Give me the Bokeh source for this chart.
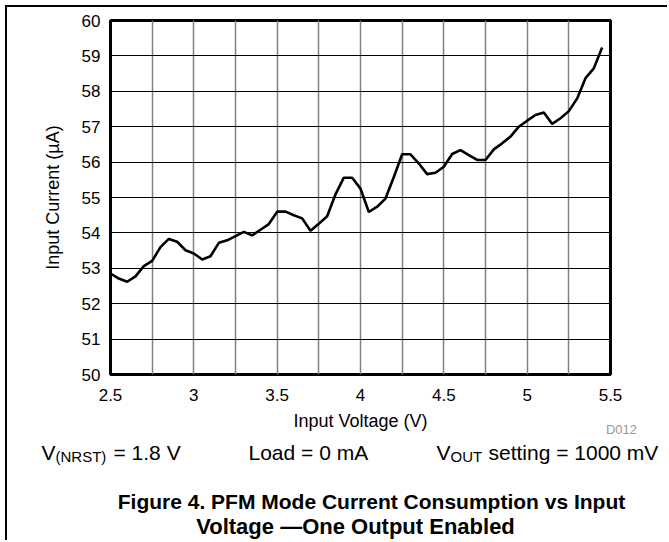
from bokeh.plotting import figure
from bokeh.models import FixedTicker, Label, Range1d
from bokeh.embed import file_html
from bokeh.resources import INLINE

# ---- data ----
voltage = [2.50, 2.55, 2.60, 2.65, 2.70, 2.75, 2.80, 2.85, 2.90, 2.95,
           3.00, 3.05, 3.10, 3.15, 3.20, 3.25, 3.30, 3.35, 3.40, 3.45,
           3.50, 3.55, 3.60, 3.65, 3.70, 3.75, 3.80, 3.85, 3.90, 3.95,
           4.00, 4.05, 4.10, 4.15, 4.20, 4.25, 4.30, 4.35, 4.40, 4.45,
           4.50, 4.55, 4.60, 4.65, 4.70, 4.75, 4.80, 4.85, 4.90, 4.95,
           5.00, 5.05, 5.10, 5.15, 5.20, 5.25, 5.30, 5.35, 5.40, 5.45]
current = [52.85, 52.71, 52.62, 52.77, 53.06, 53.21, 53.60, 53.83, 53.75, 53.51,
           53.42, 53.25, 53.34, 53.72, 53.79, 53.91, 54.03, 53.93, 54.09, 54.25,
           54.60, 54.60, 54.50, 54.41, 54.06, 54.26, 54.47, 55.09, 55.56, 55.56,
           55.25, 54.59, 54.74, 54.97, 55.58, 56.22, 56.22, 55.96, 55.66, 55.70,
           55.87, 56.23, 56.34, 56.20, 56.06, 56.06, 56.36, 56.53, 56.72, 57.00,
           57.17, 57.33, 57.40, 57.08, 57.24, 57.44, 57.80, 58.37, 58.65, 59.24]

x_ticks = [2.5, 3.0, 3.5, 4.0, 4.5, 5.0, 5.5]
x_tick_labels = ["2.5", "3", "3.5", "4", "4.5", "5", "5.5"]
x_grid = [2.5, 2.75, 3.0, 3.25, 3.5, 3.75, 4.0, 4.25, 4.5, 4.75, 5.0, 5.25, 5.5]
y_ticks = [50, 51, 52, 53, 54, 55, 56, 57, 58, 59, 60]
y_tick_labels = ["50", "51", "52", "53", "54", "55", "56", "57", "58", "59", "60"]

x_title = "Input Voltage (V)"
y_title = "Input Current (µA)"
caption_1 = "Figure 4. PFM Mode Current Consumption vs Input"
caption_2 = "Voltage \u2014One Output Enabled"

FONT = "Liberation Sans"

# ---------------- main chart ----------------
p = figure(width=662, height=402, output_backend="svg", toolbar_location=None,
           x_range=Range1d(2.5, 5.5), y_range=Range1d(50, 60),
           min_border_left=103, min_border_right=59,
           min_border_top=13, min_border_bottom=35)
p.styles = {"margin-left": "5px", "margin-top": "5px",
            "border-left": "2px solid black", "border-top": "2px solid black"}

p.outline_line_color = "black"
p.outline_line_width = 3
p.background_fill_color = "white"
p.border_fill_color = "white"

p.xgrid.ticker = FixedTicker(ticks=x_grid)
p.xgrid.grid_line_color = "#808080"
p.xgrid.grid_line_width = 1.5
p.ygrid.ticker = FixedTicker(ticks=y_ticks)
p.ygrid.grid_line_color = "black"
p.ygrid.grid_line_width = 1

for ax in (p.xaxis[0], p.yaxis[0]):
    ax.axis_line_color = None
    ax.major_tick_line_color = None
    ax.minor_tick_line_color = None
    ax.major_tick_out = 0
    ax.major_tick_in = 0
    ax.major_label_text_font = FONT
    ax.major_label_text_font_size = "17px"
    ax.major_label_text_color = "black"
    ax.axis_label_text_font = FONT
    ax.axis_label_text_font_size = "18px"
    ax.axis_label_text_font_style = "normal"
    ax.axis_label_text_color = "black"

p.xaxis.ticker = FixedTicker(ticks=x_ticks)
p.xaxis.major_label_overrides = {t: s for t, s in zip(x_ticks, x_tick_labels)}
p.xaxis.major_label_standoff = 14

p.yaxis.ticker = FixedTicker(ticks=y_ticks)
p.yaxis.major_label_overrides = {t: s for t, s in zip(y_ticks, y_tick_labels)}
p.yaxis.major_label_standoff = 10
p.yaxis.axis_label = y_title
p.yaxis.axis_label_standoff = 16

p.line(voltage, current, line_color="black", line_width=2.6)

# ---------------- text panel below (coordinates = page pixels) ----------------
q = figure(width=662, height=133, output_backend="svg", toolbar_location=None,
           x_range=Range1d(7, 669), y_range=Range1d(542, 409),
           x_axis_type=None, y_axis_type=None,
           min_border_left=0, min_border_right=0,
           min_border_top=0, min_border_bottom=0)
q.styles = {"margin-left": "5px", "border-left": "2px solid black"}
q.outline_line_color = None
q.grid.visible = False
q.background_fill_color = "white"
q.border_fill_color = "white"


def add_text(txt, px, py, size, align="left", color="black", style="normal"):
    q.add_layout(Label(x=px, y=py, text=txt, text_font=FONT,
                       text_font_size=size, text_align=align,
                       text_baseline="alphabetic", text_color=color,
                       text_font_style=style))


add_text(x_title, 360, 422, "18px", align="center")
add_text("D012", 621, 430.5, "13px", align="center", color="#999999")

add_text("V", 41, 454, "21px")
add_text("(NRST)", 55, 458, "15px")
add_text("= 1.8 V", 113, 454, "21px")
add_text("Load = 0 mA", 248, 454, "21px")
add_text("V", 436, 454, "21px")
add_text("OUT", 450, 458, "15px")
add_text("setting = 1000 mV", 488, 454, "21px")

add_text(caption_1, 371, 503, "21px", align="center", style="bold")
add_text(caption_2, 355, 528, "22px", align="center", style="bold")

open("out.html", "w").write(file_html([p, q], INLINE))
